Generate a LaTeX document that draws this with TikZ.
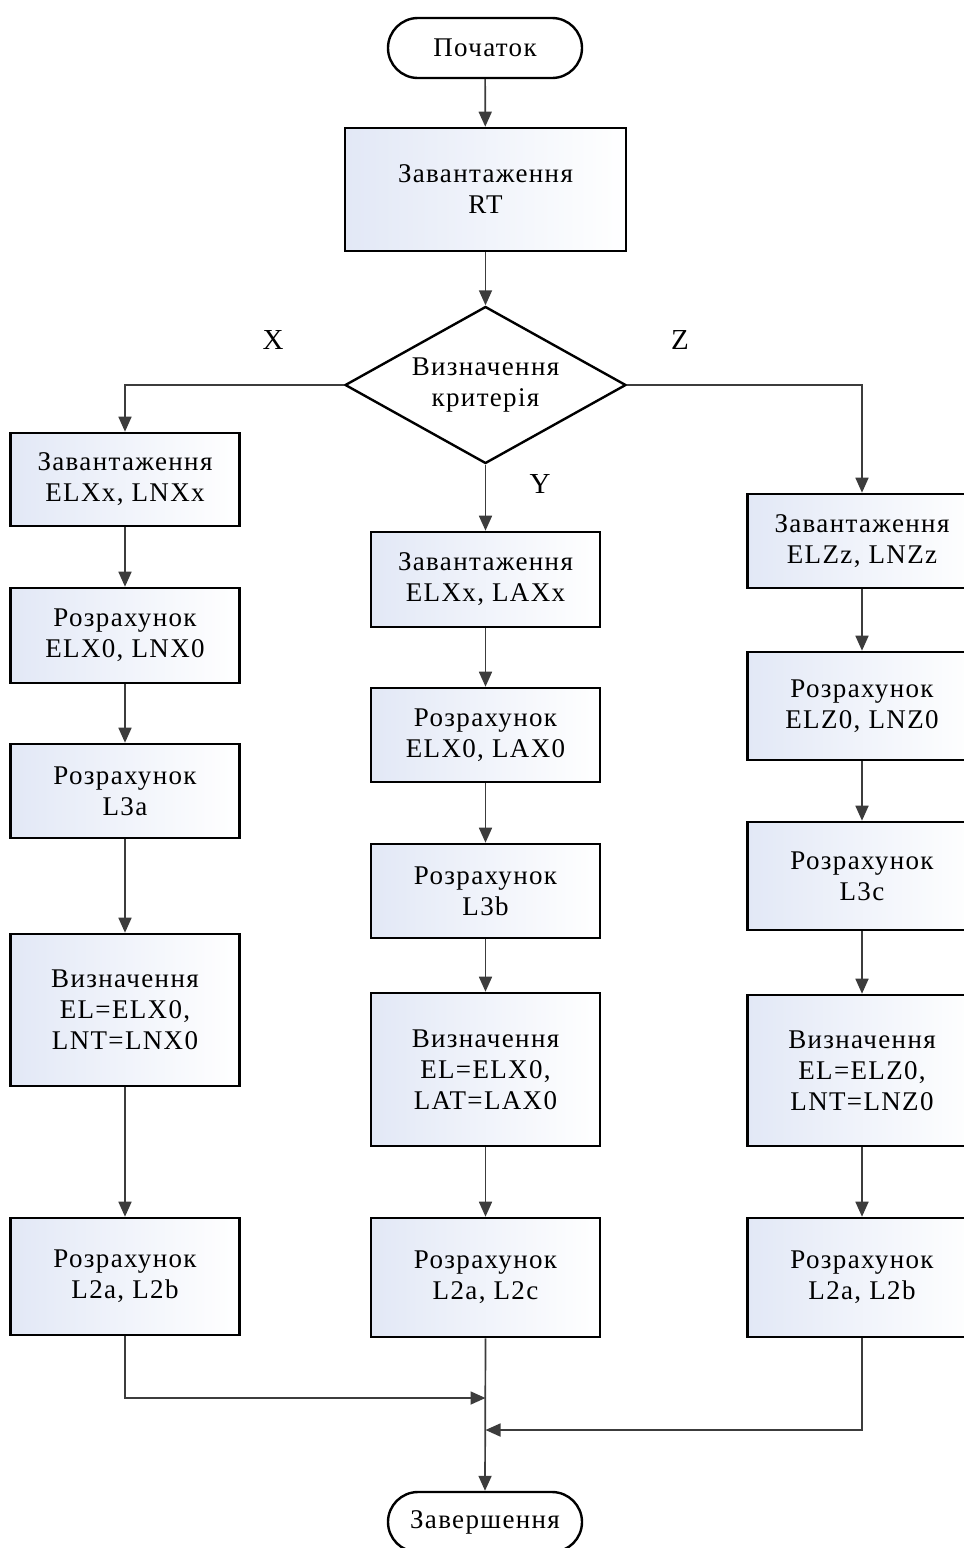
\documentclass[tikz,border=0pt]{standalone}
\usepackage{fontspec}
\setmainfont[LetterSpace=5]{Liberation Serif}
\usetikzlibrary{arrows.meta,shapes.geometric,shapes.misc}
\definecolor{boxtint}{RGB}{226,232,246}
\definecolor{linegray}{RGB}{60,60,60}
\begin{document}
\begin{tikzpicture}[x=1pt,y=-1pt,
  font=\fontsize{27}{31}\selectfont,
  proc/.style={draw=black,line width=2.6pt,left color=boxtint,right color=white,
    align=center,minimum width=229pt,inner sep=0pt},
  term/.style={draw=black,line width=2.4pt,fill=white,rounded rectangle,
    minimum width=194pt,minimum height=60pt,inner sep=0pt},
  decide/.style={draw=black,line width=2.4pt,fill=white,diamond,aspect=1.8,
    align=center,minimum width=281pt,minimum height=157pt,inner sep=0pt},
  flow/.style={draw=linegray,line width=1.7pt,-{Triangle[width=13pt,length=15pt]}},
  lbl/.style={font=\fontsize{29}{31}\selectfont}]
\path[use as bounding box] (0,0) rectangle (964,1548);
\begin{scope}
\clip (0,0) rectangle (964,1548);
\fill[white] (0,0) rectangle (964,1548);

% start, load RT, criterion
\node[term] (start) at (485,48) {Початок};
\node[proc,minimum width=281pt,minimum height=123pt] (rt) at (485.5,189.5) {Завантаження\\RT};
\node[decide] (crit) at (485.5,385) {Визначення\\критерія};

% branch X
\node[proc,minimum height=93pt] (x1) at (125,479.5) {Завантаження\\ELXx, LNXx};
\node[proc,minimum height=95pt] (x2) at (125,635.5) {Розрахунок\\ELX0, LNX0};
\node[proc,minimum height=94pt] (x3) at (125,791) {Розрахунок\\L3a};
\node[proc,minimum height=152pt] (x4) at (125,1010) {Визначення\\EL=ELX0,\\LNT=LNX0};
\node[proc,minimum height=117pt] (x5) at (125,1276.5) {Розрахунок\\L2a, L2b};

% branch Y
\node[proc,minimum height=95pt] (y1) at (485.5,579.5) {Завантаження\\ELXx, LAXx};
\node[proc,minimum height=94pt] (y2) at (485.5,735) {Розрахунок\\ELX0, LAX0};
\node[proc,minimum height=94pt] (y3) at (485.5,891) {Розрахунок\\L3b};
\node[proc,minimum height=153pt] (y4) at (485.5,1069.5) {Визначення\\EL=ELX0,\\LAT=LAX0};
\node[proc,minimum height=119pt] (y5) at (485.5,1277.5) {Розрахунок\\L2a, L2c};

% branch Z
\node[proc,minimum height=94pt] (z1) at (862,541) {Завантаження\\ELZz, LNZz};
\node[proc,minimum height=108pt] (z2) at (862,706) {Розрахунок\\ELZ0, LNZ0};
\node[proc,minimum height=108pt] (z3) at (862,876) {Розрахунок\\L3c};
\node[proc,minimum height=151pt] (z4) at (862,1070.5) {Визначення\\EL=ELZ0,\\LNT=LNZ0};
\node[proc,minimum height=119pt] (z5) at (862,1277.5) {Розрахунок\\L2a, L2b};

% end
\node[term] (stop) at (485,1522) {Завершення};

% branch labels
\node[lbl] (lx) at (273,340) {X};
\node[lbl] (lz) at (680,340) {Z};
\node[lbl] (ly) at (540,484) {Y};

% merge points
\coordinate (mx) at (485.5,1398);
\coordinate (mz) at (485.5,1430);

% connectors
\draw[flow] (start) -- (rt);
\draw[flow] (rt) -- (crit);
\draw[flow] (crit.west) -| (x1.north);
\draw[flow] (crit.east) -| (z1.north);
\draw[flow] (crit.south) -- (y1.north);
\draw[flow] (x1) -- (x2);
\draw[flow] (x2) -- (x3);
\draw[flow] (x3) -- (x4);
\draw[flow] (x4) -- (x5);
\draw[flow] (y1) -- (y2);
\draw[flow] (y2) -- (y3);
\draw[flow] (y3) -- (y4);
\draw[flow] (y4) -- (y5);
\draw[flow] (z1) -- (z2);
\draw[flow] (z2) -- (z3);
\draw[flow] (z3) -- (z4);
\draw[flow] (z4) -- (z5);
\draw[flow] (x5.south) |- (mx);
\draw[flow] (z5.south) |- (mz);
\draw[flow] (y5.south) -- (stop.north);
\end{scope}
\end{tikzpicture}
\end{document}
